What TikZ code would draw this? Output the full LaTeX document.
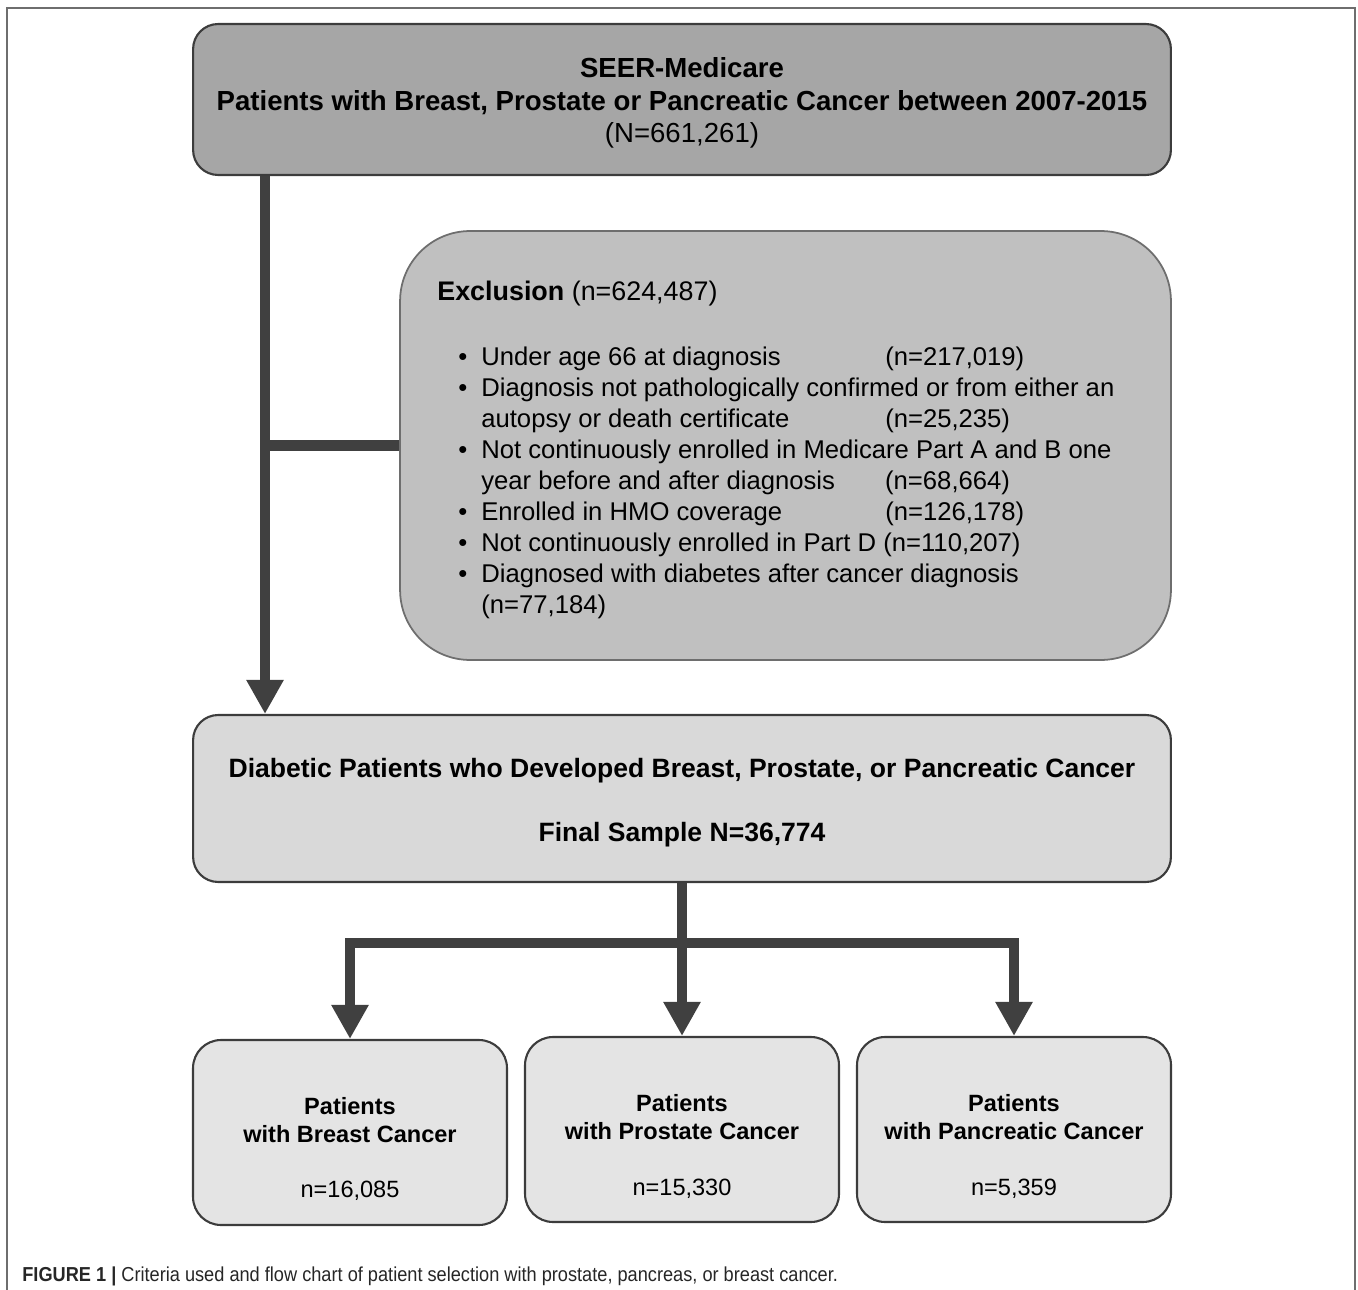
\documentclass[tikz,border=0pt]{standalone}
\usepackage{fontspec}
\setmainfont{Liberation Sans}
\newfontfamily\captionfont[FakeStretch=0.9]{Liberation Sans}
\usetikzlibrary{arrows.meta,positioning}
\definecolor{topgray}{RGB}{166,166,166}
\definecolor{exclgray}{RGB}{192,192,192}
\definecolor{finalgray}{RGB}{217,217,217}
\definecolor{leafgray}{RGB}{228,228,228}
\definecolor{flowgray}{RGB}{64,64,64}
\definecolor{boxline}{RGB}{60,60,60}
\definecolor{framegray}{RGB}{110,110,110}

\begin{document}
\begin{tikzpicture}[x=0.02cm,y=-0.02cm]

      \tikzset{box/.style={draw=boxline, line width=1.2pt, rounded corners=0.5cm, inner sep=0pt},
        leafbox/.style={box, fill=leafgray, rounded corners=0.56cm, minimum width=6.28cm, minimum height=3.7cm},
        leaftext/.style={align=center, inner sep=0pt, font=\fontsize{13.4}{15.9}\selectfont\bfseries},
        flow/.style={draw=flowgray, line width=6.2pt, -{Triangle[length=0.68cm,width=0.7cm]}},
        bar/.style={draw=flowgray, line width=6.2pt}}
      \useasboundingbox (0,0) rectangle (1358,1290);
      \draw[framegray, line width=1.1pt] (7,1300) -- (7,8) -- (1355,8) -- (1355,1300);
%% Boxes
      	\node[box, fill=topgray, minimum width=19.56cm, minimum height=3.02cm, align=center,
      	  font=\fontsize{15.7}{18.7}\selectfont\bfseries] (seer) at (682,99.5)
      	  {\rule{0pt}{0.54cm}SEER-Medicare\\ Patients with Breast, Prostate or Pancreatic Cancer between 2007-2015\\ {\mdseries (N=661,261)}};
      	\node[box, fill=exclgray, draw=framegray, line width=1pt, rounded corners=1.4cm,
      	  minimum width=15.42cm, minimum height=8.58cm] (excl) at (785.5,445.5) {};
      	\node[anchor=base west, inner sep=0pt, font=\fontsize{14.6}{17.6}\selectfont] (excltext) at (437,301)
      	  {\begin{tabular}[t]{@{\hspace{0.42cm}}l@{\hspace{0.28cm}}l@{}}
      	  \multicolumn{2}{@{}l@{}}{\fontsize{15.3}{17.6}\selectfont\textbf{Exclusion} (n=624,487)}\\[0.68cm]
      	  \textbullet & \makebox[8.08cm][l]{Under age 66 at diagnosis}(n=217,019)\\
      	  \textbullet & Diagnosis not pathologically confirmed or from either an\\
      	              & \makebox[8.08cm][l]{autopsy or death certificate}(n=25,235)\\
      	  \textbullet & Not continuously enrolled in Medicare Part A and B one\\
      	              & \makebox[8.08cm][l]{year before and after diagnosis}(n=68,664)\\
      	  \textbullet & \makebox[8.08cm][l]{Enrolled in HMO coverage}(n=126,178)\\
      	  \textbullet & Not continuously enrolled in Part D (n=110,207)\\
      	  \textbullet & Diagnosed with diabetes after cancer diagnosis\\
      	              & (n=77,184)
      	  \end{tabular}};
      	\node[box, fill=finalgray, minimum width=19.56cm, minimum height=3.34cm, align=center,
      	  font=\fontsize{15.1}{36.3}\selectfont\bfseries] (final) at (682,798.5)
      	  {\rule{0pt}{0.54cm}Diabetic Patients who Developed Breast, Prostate, or Pancreatic Cancer\\ Final Sample N=36,774};
      	\node[leafbox] (breast) at (350,1132.5) {};
      	\node[leafbox] (prostate) at (682,1129.5) {};
      	\node[leafbox] (pancreas) at (1014,1129.5) {};
      	\node[leaftext] (breasttext) at ([yshift=-0.33cm]breast.center)
      	  {Patients\\ with Breast Cancer\\[0.56cm] {\mdseries n=16,085}};
      	\node[leaftext] (prostatetext) at ([yshift=-0.34cm]prostate.center)
      	  {Patients\\ with Prostate Cancer\\[0.56cm] {\mdseries n=15,330}};
      	\node[leaftext] (pancreastext) at ([yshift=-0.34cm]pancreas.center)
      	  {Patients\\ with Pancreatic Cancer\\[0.56cm] {\mdseries n=5,359}};
      	\node[anchor=base west, inner sep=0pt, text=black!85, font=\captionfont\fontsize{11.5}{13}\selectfont] (caption) at (22,1281)
      	  {\textbf{FIGURE 1 |} Criteria used and flow chart of patient selection with prostate, pancreas, or breast cancer.};
      	\coordinate (trunk) at (265,0);
      	\coordinate (fork) at (682,943);
%Edges
		\draw[flow] (seer.south -| trunk) -- (final.north -| trunk);
		\draw[bar] (trunk |- excl.west) -- (excl.west);
		\draw[flow] (final.south) -- (prostate.north);
		\draw[flow] (fork) -| (breast.north);
		\draw[flow] (fork) -| (pancreas.north);

	\end{tikzpicture}
\end{document}
